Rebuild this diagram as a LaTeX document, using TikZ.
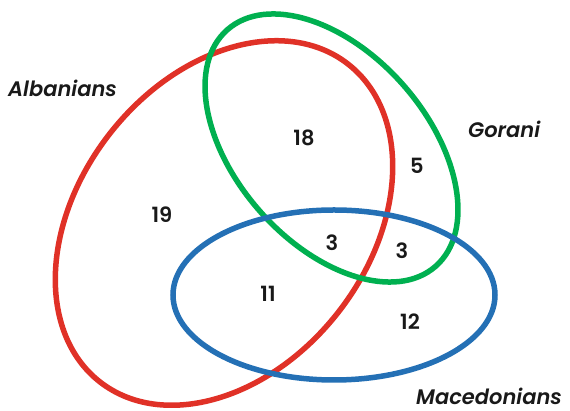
\documentclass[tikz,border=0pt]{standalone}
\usepackage{fontspec}
\setmainfont{Poppins}[BoldFont={Poppins SemiBold}, ItalicFont={Poppins Medium Italic}, BoldItalicFont={Poppins SemiBold Italic}]
\definecolor{vred}{HTML}{E03127}
\definecolor{vgreen}{HTML}{00B050}
\definecolor{vblue}{HTML}{2470B5}
\begin{document}
\begin{tikzpicture}[x=1pt,y=1pt,
  ring/.style={line width=5.5pt},
  num/.style={font=\fontsize{21}{23}\selectfont\bfseries, text=black!90},
  lbl/.style={font=\fontsize{21}{23}\selectfont\bfseries\itshape, text=black!90, inner sep=0pt, anchor=base west}]
\useasboundingbox (0,0) rectangle (570,411);
\draw[ring, vred] (224,188) circle[x radius=201.6, y radius=145, rotate=52];
\draw[ring, vgreen] (331.5,263) circle[x radius=157.6, y radius=95.5, rotate=-48.6];
\draw[ring, vblue] (334,116) circle[x radius=161, y radius=85];
\node[lbl] (alb) at (8,314) {Albanians};
\node[lbl] (gor) at (468,273) {Gorani};
\node[lbl] (mac) at (416,6) {Macedonians};
\node[num] (n18) at (304,273) {18};
\node[num] (n5) at (417,245) {5};
\node[num] (n19) at (162,196) {19};
\node[num] (n11) at (268,117) {11};
\node[num] (n3a) at (332,168) {3};
\node[num] (n3b) at (402,160) {3};
\node[num] (n12) at (410,89) {12};
\end{tikzpicture}
\end{document}
